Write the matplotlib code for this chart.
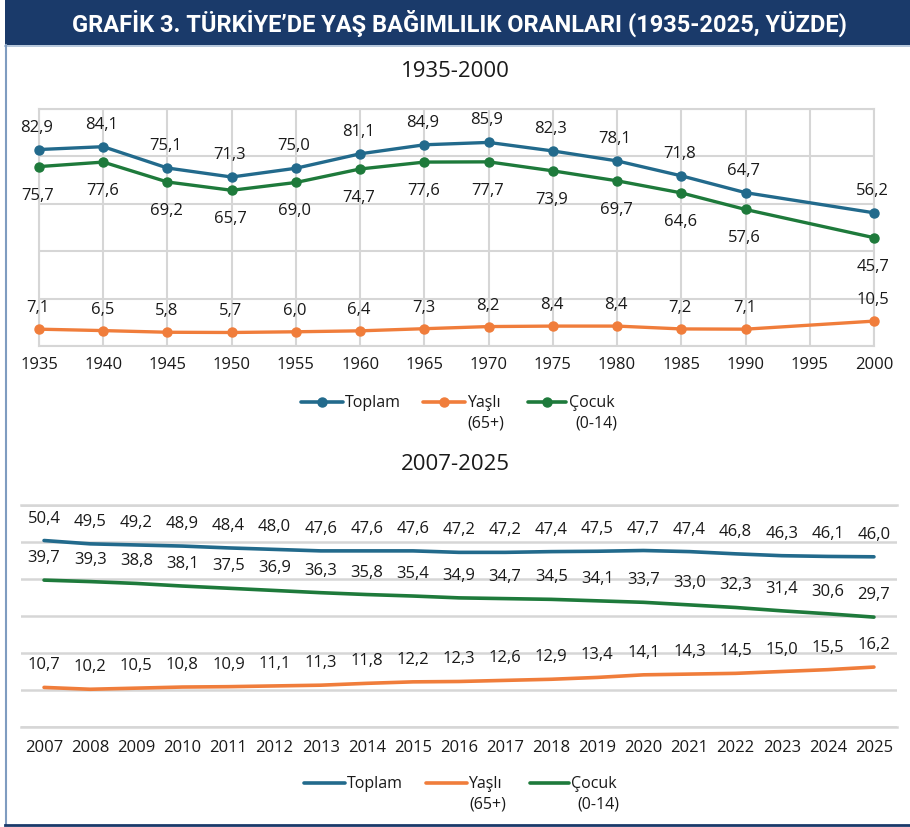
import matplotlib
matplotlib.use("Agg")
import matplotlib.pyplot as plt
from matplotlib.lines import Line2D
from matplotlib.patches import Rectangle

plt.rcParams['font.family'] = ['Open Sans', 'DejaVu Sans']

# ---------------- data ----------------
years_top = [1935, 1940, 1945, 1950, 1955, 1960, 1965, 1970, 1975, 1980, 1985, 1990, 2000]
toplam_top = [82.9, 84.1, 75.1, 71.3, 75.0, 81.1, 84.9, 85.9, 82.3, 78.1, 71.8, 64.7, 56.2]
yasli_top = [7.1, 6.5, 5.8, 5.7, 6.0, 6.4, 7.3, 8.2, 8.4, 8.4, 7.2, 7.1, 10.5]
cocuk_top = [75.7, 77.6, 69.2, 65.7, 69.0, 74.7, 77.6, 77.7, 73.9, 69.7, 64.6, 57.6, 45.7]
ticks_top = [1935, 1940, 1945, 1950, 1955, 1960, 1965, 1970, 1975, 1980, 1985, 1990, 1995, 2000]

years_bot = ['2007', '2008', '2009', '2010', '2011', '2012', '2013', '2014', '2015', '2016',
             '2017', '2018', '2019', '2020', '2021', '2022', '2023', '2024', '2025']
toplam_bot = [50.4, 49.5, 49.2, 48.9, 48.4, 48.0, 47.6, 47.6, 47.6, 47.2,
              47.2, 47.4, 47.5, 47.7, 47.4, 46.8, 46.3, 46.1, 46.0]
cocuk_bot = [39.7, 39.3, 38.8, 38.1, 37.5, 36.9, 36.3, 35.8, 35.4, 34.9,
             34.7, 34.5, 34.1, 33.7, 33.0, 32.3, 31.4, 30.6, 29.7]
yasli_bot = [10.7, 10.2, 10.5, 10.8, 10.9, 11.1, 11.3, 11.8, 12.2, 12.3,
             12.6, 12.9, 13.4, 14.1, 14.3, 14.5, 15.0, 15.5, 16.2]

title = "GRAFİK 3. TÜRKİYE’DE YAŞ BAĞIMLILIK ORANLARI (1935-2025, YÜZDE)"
sub_top = "1935-2000"
sub_bot = "2007-2025"
legend_labels = [("Toplam", None), ("Yaşlı", "(65+)"), ("Çocuk", "(0-14)")]

# ---------------- style ----------------
C_BLUE = '#226a8c'
C_ORANGE = '#f07d3b'
C_GREEN = '#1e7a3b'
C_TEXT = '#1a1a1a'
C_GRID = '#d6d6d6'
C_NAVY = '#1a3a6a'
FS_LAB = 12
FS_TICK = 12

W, H = 910, 828
fig = plt.figure(figsize=(W / 100, H / 100), dpi=100)


def fx(px):
    return px / W


def fy(py):
    return 1 - py / H


def fmt(v):
    return f"{v:.1f}".replace('.', ',')


# banner and frame
fig.add_artist(Rectangle((fx(5), fy(46)), 1 - fx(5), 46 / H, transform=fig.transFigure,
                         facecolor=C_NAVY, edgecolor='none'))
fig.add_artist(Line2D([fx(5), 1], [fy(46.5), fy(46.5)], transform=fig.transFigure,
                      color='#a9bed6', lw=1.2))
fig.add_artist(Line2D([fx(5.5), fx(5.5)], [fy(46), fy(826)], transform=fig.transFigure,
                      color='#7f9cc0', lw=1.5))
fig.add_artist(Line2D([fx(5), 1], [fy(826), fy(826)], transform=fig.transFigure,
                      color=C_NAVY, lw=2))
fig.text(fx(459), fy(23), title, color='white', fontsize=17, fontweight='bold',
         family=['Roboto', 'DejaVu Sans'], ha='center', va='center')

fig.text(fx(455), fy(72), sub_top, fontsize=16, color=C_TEXT, ha='center', va='center')
fig.text(fx(455), fy(465), sub_bot, fontsize=16, color=C_TEXT, ha='center', va='center')

# ---------------- top chart ----------------
ax1 = fig.add_axes([fx(39), fy(347), fx(874) - fx(39), (347 - 110) / H])
ax1.set_xlim(1935, 2000)
ax1.set_ylim(0, 100)
ax1.set_xticks(ticks_top)
ax1.set_xticklabels([str(t) for t in ticks_top])
ax1.set_yticks([0, 20, 40, 60, 80, 100])
ax1.set_yticklabels([])
ax1.tick_params(length=0, labelsize=FS_TICK, colors=C_TEXT, pad=7)
ax1.grid(True, color=C_GRID, lw=1.5)
ax1.set_axisbelow(True)
for s in ax1.spines.values():
    s.set_color(C_GRID)
    s.set_linewidth(1.5)

ms = 6.5
ax1.plot(years_top, toplam_top, color=C_BLUE, lw=2.4, marker='o', ms=ms, clip_on=False, zorder=3)
ax1.plot(years_top, yasli_top, color=C_ORANGE, lw=2.4, marker='o', ms=ms, clip_on=False, zorder=3)
ax1.plot(years_top, cocuk_top, color=C_GREEN, lw=2.4, marker='o', ms=ms, clip_on=False, zorder=3)

for x, v in zip(years_top, toplam_top):
    ax1.annotate(fmt(v), (x, v), xytext=(-2, 23), textcoords='offset pixels',
                 ha='center', va='center', fontsize=FS_LAB, color=C_TEXT, annotation_clip=False)
for x, v in zip(years_top, yasli_top):
    ax1.annotate(fmt(v), (x, v), xytext=(-1, 22), textcoords='offset pixels',
                 ha='center', va='center', fontsize=FS_LAB, color=C_TEXT, annotation_clip=False)
for x, v in zip(years_top, cocuk_top):
    ax1.annotate(fmt(v), (x, v), xytext=(-1, -28), textcoords='offset pixels',
                 ha='center', va='center', fontsize=FS_LAB, color=C_TEXT, annotation_clip=False)

# ---------------- bottom chart ----------------
ax2 = fig.add_axes([fx(21), fy(728), fx(897) - fx(21), (728 - 506) / H])
xb = list(range(len(years_bot)))
ax2.set_xlim(-0.5, len(years_bot) - 0.5)
ax2.set_ylim(0, 60)
ax2.set_xticks(xb)
ax2.set_xticklabels(years_bot)
ax2.set_yticks([0, 10, 20, 30, 40, 50, 60])
ax2.set_yticklabels([])
ax2.tick_params(length=0, labelsize=FS_TICK, colors=C_TEXT, pad=9)
ax2.grid(True, axis='y', color=C_GRID, lw=1.8)
ax2.set_axisbelow(True)
for k, s in ax2.spines.items():
    if k in ('top', 'bottom'):
        s.set_color(C_GRID)
        s.set_linewidth(1.8)
    else:
        s.set_visible(False)

ax2.plot(xb, toplam_bot, color=C_BLUE, lw=2.6, solid_capstyle='round', zorder=3)
ax2.plot(xb, yasli_bot, color=C_ORANGE, lw=2.6, solid_capstyle='round', zorder=3)
ax2.plot(xb, cocuk_bot, color=C_GREEN, lw=2.6, solid_capstyle='round', zorder=3)

for series in (toplam_bot, cocuk_bot, yasli_bot):
    for x, v in zip(xb, series):
        ax2.annotate(fmt(v), (x, v), xytext=(0, 23), textcoords='offset pixels',
                     ha='center', va='center', fontsize=FS_LAB, color=C_TEXT, annotation_clip=False)


# ---------------- legends (manual) ----------------
def draw_legend(y1, y2, handles, markers):
    colors = [C_BLUE, C_ORANGE, C_GREEN]
    for (x0, x1, tx, tx2), (lab, lab2), col in zip(handles, legend_labels, colors):
        fig.add_artist(Line2D([fx(x0), fx(x1)], [fy(y1), fy(y1)], transform=fig.transFigure,
                              color=col, lw=2.6, solid_capstyle='round'))
        if markers:
            fig.add_artist(Line2D([fx((x0 + x1) / 2)], [fy(y1)], transform=fig.transFigure,
                                  color=col, marker='o', ms=6.5, lw=0))
        fig.text(fx(tx), fy(y1), lab, fontsize=11.5, color=C_TEXT, ha='left', va='center')
        if lab2:
            fig.text(fx(tx2), fy(y2), lab2, fontsize=11.5, color=C_TEXT, ha='center', va='center')


draw_legend(403, 424, [(301, 343, 345, None), (423, 465, 467, 486), (528, 566, 569, 596)], True)
draw_legend(784, 805, [(304, 345, 347, None), (426, 467, 468, 488), (530, 569, 571, 598)], False)

fig.savefig("out.png", dpi=100)
